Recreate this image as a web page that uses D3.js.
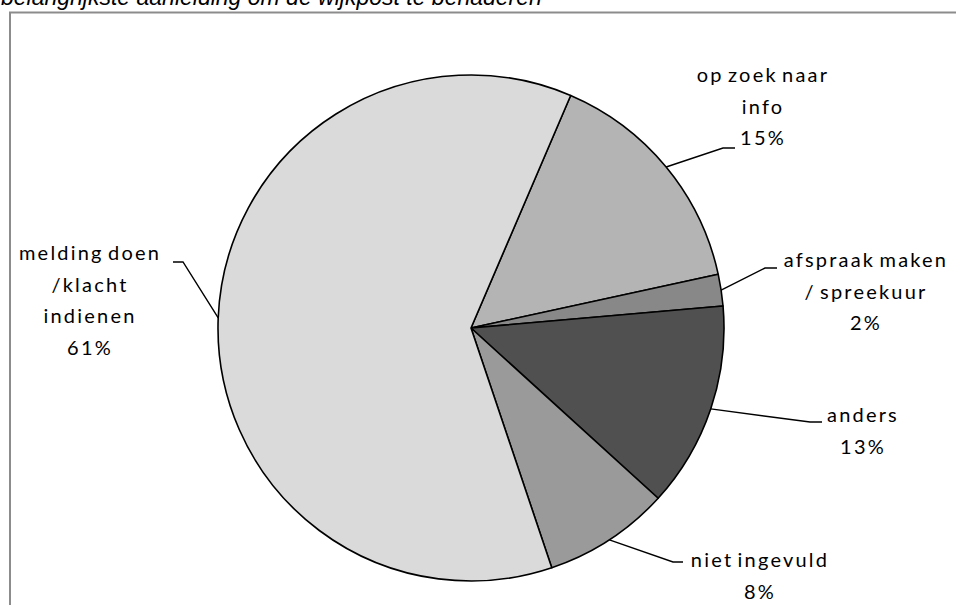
<!DOCTYPE html>
<html>
<head>
<meta charset="utf-8">
<script src="https://cdn.jsdelivr.net/npm/d3@7"></script>
<style>
  html, body { margin: 0; padding: 0; background: #fff; }
  svg { display: block; }
</style>
</head>
<body>
<svg id="chart" width="956" height="605"></svg>
<script>
// Reasons for contacting the neighbourhood office (share of respondents, %)
const categories = ["op zoek naar info", "afspraak maken / spreekuur", "anders", "niet ingevuld", "melding doen /klacht indienen"];
const values = [15, 2, 13, 8, 61];
// Label text, one entry per line (percentage line is appended from the value)
const labelLines = [
  ["op zoek naar", "info"],
  ["afspraak maken", "/ spreekuur"],
  ["anders"],
  ["niet ingevuld"],
  ["melding doen", "/klacht", "indienen"]
];
const fills = ["#b4b4b4", "#888888", "#505050", "#9a9a9a", "#dadada"];
const title = "belangrijkste aanleiding om de wijkpost te benaderen";

// Label placement relative to the pie centre: elbow of the leader line,
// end of its horizontal run, text centre x and first baseline y.
const labelLayout = [
  { elbow: [252, -180], end: [264, -180], cx: 292, y0: -246 },
  { elbow: [294, -60],  end: [306, -60],  cx: 395, y0: -61 },
  { elbow: [339, 94],   end: [351, 94],   cx: 392, y0: 94 },
  { elbow: [202, 234],  end: [212, 234],  cx: 289, y0: 239 },
  { elbow: [-288, -66], end: [-298, -66], cx: -381, y0: -68 }
];

const svg = d3.select("#chart");
const W = 956, H = 605;
const cx = 471, cy = 328, R = 253;
const lineH = 31.7;

// Chart area frame (runs off the right and bottom edges)
svg.append("rect")
  .attr("x", 10).attr("y", 12.5)
  .attr("width", W + 20).attr("height", H + 20)
  .attr("fill", "#fff")
  .attr("stroke", "#8c8c8c")
  .attr("stroke-width", 2);

// Title, partly above the top edge
svg.append("text")
  .attr("x", 1).attr("y", 5)
  .attr("font-family", "Liberation Sans, Arial, sans-serif")
  .attr("font-style", "italic")
  .attr("font-size", 23)
  .attr("fill", "#000")
  .text(title);

const startDeg = 23.2;
const pie = d3.pie().sort(null).value(d => d)
  .startAngle(startDeg * Math.PI / 180)
  .endAngle(startDeg * Math.PI / 180 + 2 * Math.PI);
const arcs = pie(values);
const arc = d3.arc().innerRadius(0).outerRadius(R);

const g = svg.append("g").attr("transform", `translate(${cx},${cy})`);

g.selectAll("path.slice")
  .data(arcs)
  .enter().append("path")
  .attr("class", "slice")
  .attr("d", arc)
  .attr("fill", (d, i) => fills[i])
  .attr("stroke", "#000")
  .attr("stroke-width", 1.6)
  .attr("stroke-linejoin", "round");

// Leader lines from the slice edge at the mid angle
arcs.forEach((d, i) => {
  const a = (d.startAngle + d.endAngle) / 2;
  const p0 = [R * Math.sin(a), -R * Math.cos(a)];
  const L = labelLayout[i];
  g.append("polyline")
    .attr("points", [p0, L.elbow, L.end].map(p => p.join(",")).join(" "))
    .attr("fill", "none")
    .attr("stroke", "#000")
    .attr("stroke-width", 1.4);
});

// Data labels
const fmt = v => `${v}%`;
arcs.forEach((d, i) => {
  const L = labelLayout[i];
  const lines = labelLines[i].concat([fmt(values[i])]);
  const t = g.append("text")
    .attr("text-anchor", "middle")
    .attr("font-family", "Lato, 'Open Sans', sans-serif")
    .attr("font-size", 20)
    .attr("letter-spacing", 2.2)
    .attr("word-spacing", -3)
    .attr("fill", "#000");
  lines.forEach((s, k) => {
    t.append("tspan").attr("x", L.cx).attr("y", L.y0 + k * lineH).text(s);
  });
});
</script>
</body>
</html>
